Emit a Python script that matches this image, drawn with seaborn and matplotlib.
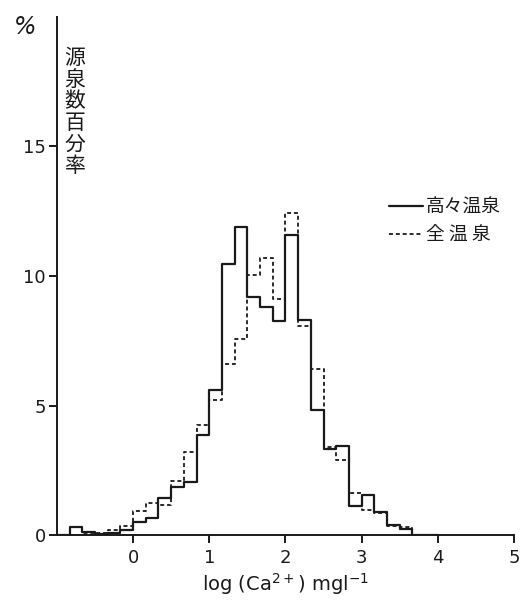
import numpy as np
import pandas as pd
import matplotlib
matplotlib.use("Agg")
import matplotlib.pyplot as plt
import seaborn as sns
from matplotlib.lines import Line2D

# bin edges in log(Ca2+) units, width 1/6, from -1 to 4
bin_edges = [k / 6.0 for k in range(-6, 25)]
bin_centers = [(a + b) / 2 for a, b in zip(bin_edges[:-1], bin_edges[1:])]

# percentages for each bin
high_temp = [0, 0.32, 0.13, 0.06, 0.10, 0.19, 0.49, 0.67, 1.42, 1.87,
             2.04, 3.85, 5.62, 10.47, 11.89, 9.20, 8.79, 8.27, 11.59, 8.31,
             4.84, 3.32, 3.45, 1.12, 1.56, 0.88, 0.38, 0.24, 0, 0]
all_springs = [0, 0, 0.05, 0.08, 0.19, 0.35, 0.92, 1.24, 1.16, 2.10,
               3.19, 4.26, 5.20, 6.59, 7.58, 10.04, 10.68, 9.10, 12.44, 8.07,
               6.42, 3.39, 2.91, 1.63, 0.96, 0.86, 0.35, 0.31, 0, 0]

series_labels = ["高々温泉", "全 温 泉"]
x_ticks = [0, 1, 2, 3, 4, 5]
y_ticks = [0, 5, 10, 15]

df_high = pd.DataFrame({"x": bin_centers, "w": high_temp})
df_all = pd.DataFrame({"x": bin_centers, "w": all_springs})

sns.set_style("white")
plt.rcParams["font.family"] = ["Noto Sans CJK JP", "DejaVu Sans"]

fig = plt.figure(figsize=(5.32, 6.04), dpi=100)
ax = fig.add_axes([0.107, 0.114, 0.859, 0.858])

ink = "#1a1a1a"
sns.histplot(data=df_high, x="x", weights="w", bins=bin_edges,
             element="step", fill=False, color=ink, linewidth=1.6, ax=ax)
sns.histplot(data=df_all, x="x", weights="w", bins=bin_edges,
             element="step", fill=False, color=ink, linewidth=1.3,
             linestyle=(0, (2.2, 1.6)), ax=ax)

ax.set_xlim(-1, 5)
ax.set_ylim(0, 20)
ax.set_xticks(x_ticks)
ax.set_yticks(y_ticks)
ax.set_xticklabels([str(t) for t in x_ticks], fontsize=13, family="DejaVu Sans", color=ink)
ax.set_yticklabels([str(t) for t in y_ticks], fontsize=13, family="DejaVu Sans", color=ink)
ax.tick_params(axis="both", direction="out", length=6, width=1.4, color=ink, pad=2,
               bottom=True, left=True)
ax.tick_params(axis="x", pad=4)
sns.despine(ax=ax)
for sp in ["left", "bottom"]:
    ax.spines[sp].set_color(ink)
    ax.spines[sp].set_linewidth(1.4)
ax.set_ylabel("")
ax.set_xlabel("log (Ca$^{2+}$) mgl$^{-1}$", fontsize=14, color=ink,
              family="DejaVu Sans", labelpad=3)

fig.text(0.026, 0.955, "%", fontsize=17, style="italic", color=ink,
         family="DejaVu Sans", va="center")
fig.text(0.141, 0.922, "\n".join("源泉数百分率"), fontsize=15, color=ink,
         va="top", ha="center", linespacing=0.98)

handles = [Line2D([], [], color=ink, lw=1.6),
           Line2D([], [], color=ink, lw=1.3, ls=(0, (2.2, 1.6)))]
leg = ax.legend(handles, series_labels, loc="upper left",
                bbox_to_anchor=(0.69, 0.685), frameon=False, fontsize=13.5,
                handlelength=1.8, handletextpad=0.15, labelspacing=0.35)
for t in leg.get_texts():
    t.set_color(ink)

fig.savefig("out.png", dpi=100, facecolor="white")
